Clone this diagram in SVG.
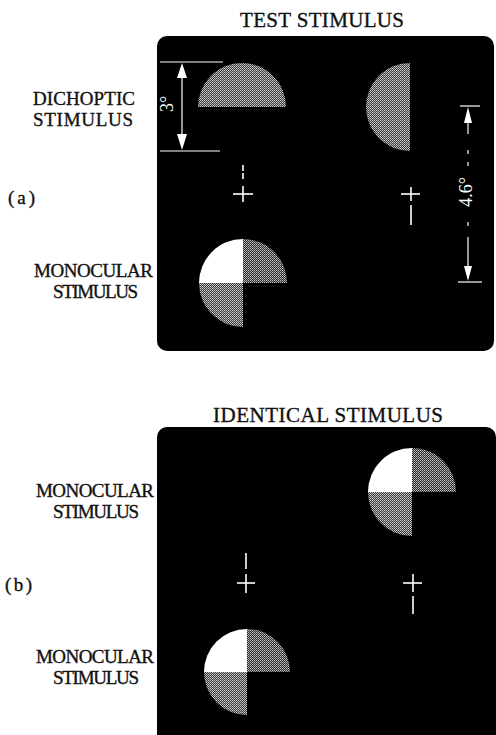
<svg xmlns="http://www.w3.org/2000/svg" width="496" height="735" viewBox="0 0 496 735">
<style>
.lbl{font-family:"Liberation Serif","Times New Roman",serif;font-size:19px;fill:#111;stroke:#111;stroke-width:0.35;}
.ttl{font-family:"Liberation Serif","Times New Roman",serif;font-size:21px;fill:#111;stroke:#111;stroke-width:0.35;}
.dim{font-family:"Liberation Serif","Times New Roman",serif;font-size:18px;fill:#fff;}
.panel{fill:#000;}
.wl{stroke:#fff;stroke-width:1.6;fill:none;}
.thin{stroke:#fff;stroke-width:1.2;fill:none;}
.ah{fill:#fff;}
.g{fill:url(#dither);}
.g2{fill:url(#dither2);}
.w{fill:#fff;}
</style>
<defs>
<pattern id="dither" width="2" height="2" patternUnits="userSpaceOnUse">
<rect width="2" height="2" fill="#3a3a3a"/>
<rect x="0" y="0" width="1" height="1" fill="#d0d0d0"/>
<rect x="1" y="1" width="1" height="1" fill="#b0b0b0"/>
</pattern>
<pattern id="dither2" width="2" height="2" patternUnits="userSpaceOnUse">
<rect width="2" height="2" fill="#2a2a2a"/>
<rect x="0" y="0" width="1" height="1" fill="#c8c8c8"/>
<rect x="1" y="1" width="1" height="1" fill="#9a9a9a"/>
</pattern>
</defs>
<rect width="496" height="735" fill="#fff"/>

<!-- Titles -->
<g id="title-test"><text class="ttl" x="240" y="27" textLength="164" lengthAdjust="spacing">TEST  STIMULUS</text></g>
<g id="title-identical"><text class="ttl" x="213" y="422" textLength="230" lengthAdjust="spacing">IDENTICAL  STIMULUS</text></g>

<!-- Left labels -->
<g id="label-a"><text class="lbl" x="8" y="204" textLength="27" lengthAdjust="spacing">(a)</text></g>
<g id="label-b"><text class="lbl" x="5" y="591" textLength="27" lengthAdjust="spacing">(b)</text></g>
<g id="label-dichoptic">
<text class="lbl" x="33" y="105" textLength="102" lengthAdjust="spacing">DICHOPTIC</text>
<text class="lbl" x="33" y="126" textLength="100" lengthAdjust="spacing">STIMULUS</text>
</g>
<g id="label-mono-a">
<text class="lbl" x="34" y="277" textLength="119" lengthAdjust="spacing">MONOCULAR</text>
<text class="lbl" x="53" y="298" textLength="85" lengthAdjust="spacing">STIMULUS</text>
</g>
<g id="label-mono-b1">
<text class="lbl" x="36" y="497" textLength="118" lengthAdjust="spacing">MONOCULAR</text>
<text class="lbl" x="53" y="518" textLength="86" lengthAdjust="spacing">STIMULUS</text>
</g>
<g id="label-mono-b2">
<text class="lbl" x="36" y="663" textLength="118" lengthAdjust="spacing">MONOCULAR</text>
<text class="lbl" x="53" y="684" textLength="86" lengthAdjust="spacing">STIMULUS</text>
</g>

<!-- Panel (a) -->
<g id="panel-a">
<rect class="panel" x="157" y="36" width="337" height="315" rx="10"/>
<g id="dichoptic-left"><path class="g" d="M198,107 A44,44 0 0 1 286,107 Z"/></g>
<g id="dichoptic-right"><path class="g" d="M410,63 A44,44 0 0 0 410,151 Z"/></g>
<g id="mono-a-disc">
<path class="w" d="M243,283 L199,283 A44,44 0 0 1 243,239 Z"/>
<path class="g2" d="M243,283 L243,239 A44,44 0 0 1 287,283 Z"/>
<path class="g" d="M243,283 L243,327 A44,44 0 0 1 199,283 Z"/>
</g>
<g id="cross-a-left">
<line class="wl" x1="243" y1="165" x2="243" y2="181" stroke-dasharray="6 2"/>
<line class="wl" x1="243" y1="186" x2="243" y2="202"/>
<line class="wl" x1="233" y1="194" x2="253" y2="194"/>
</g>
<g id="cross-a-right">
<line class="wl" x1="411" y1="187" x2="411" y2="201"/>
<line class="wl" x1="401" y1="194" x2="420" y2="194"/>
<line class="wl" x1="411" y1="205" x2="411" y2="225"/>
</g>
<g id="dim-3deg">
<line class="thin" x1="160" y1="62" x2="223" y2="62"/>
<line class="thin" x1="160" y1="151" x2="220" y2="151"/>
<line class="thin" x1="182" y1="76" x2="182" y2="136"/>
<polygon class="ah" points="182,63 177,78 187,78"/>
<polygon class="ah" points="182,150 177,134 187,134"/>
<text class="dim" transform="translate(173,104) rotate(-90)" text-anchor="middle">3°</text>
</g>
<g id="dim-4-6deg">
<line class="thin" x1="460" y1="106" x2="480" y2="106"/>
<line class="thin" x1="458" y1="282" x2="482" y2="282"/>
<polygon class="ah" points="468,107 464,123 472,123"/>
<polygon class="ah" points="468,281 464,266 472,266"/>
<line class="thin" x1="468" y1="122" x2="468" y2="134"/>
<line class="thin" x1="468" y1="150" x2="468" y2="154"/>
<line class="thin" x1="468" y1="162" x2="468" y2="166"/>
<line class="thin" x1="468" y1="222" x2="468" y2="226"/>
<line class="thin" x1="468" y1="237" x2="468" y2="267"/>
<text class="dim" transform="translate(472,192) rotate(-90)" text-anchor="middle">4.6°</text>
</g>
</g>

<!-- Panel (b) -->
<g id="panel-b">
<rect class="panel" x="157" y="427" width="339" height="318" rx="10"/>
<g id="mono-b-upper">
<path class="w" d="M412,492 L368,492 A44,44 0 0 1 412,448 Z"/>
<path class="g2" d="M412,492 L412,448 A44,44 0 0 1 456,492 Z"/>
<path class="g" d="M412,492 L412,536 A44,44 0 0 1 368,492 Z"/>
</g>
<g id="mono-b-lower">
<path class="w" d="M247,672 L204,672 A43,43 0 0 1 247,629 Z"/>
<path class="g2" d="M247,672 L247,629 A43,43 0 0 1 290,672 Z"/>
<path class="g" d="M247,672 L247,715 A43,43 0 0 1 204,672 Z"/>
</g>
<g id="cross-b-left">
<line class="wl" x1="246" y1="553" x2="246" y2="569"/>
<line class="wl" x1="246" y1="574" x2="246" y2="593"/>
<line class="wl" x1="237" y1="583" x2="255" y2="583"/>
</g>
<g id="cross-b-right">
<line class="wl" x1="413" y1="574" x2="413" y2="592"/>
<line class="wl" x1="403" y1="583" x2="422" y2="583"/>
<line class="wl" x1="413" y1="596" x2="413" y2="614"/>
</g>
</g>
</svg>
